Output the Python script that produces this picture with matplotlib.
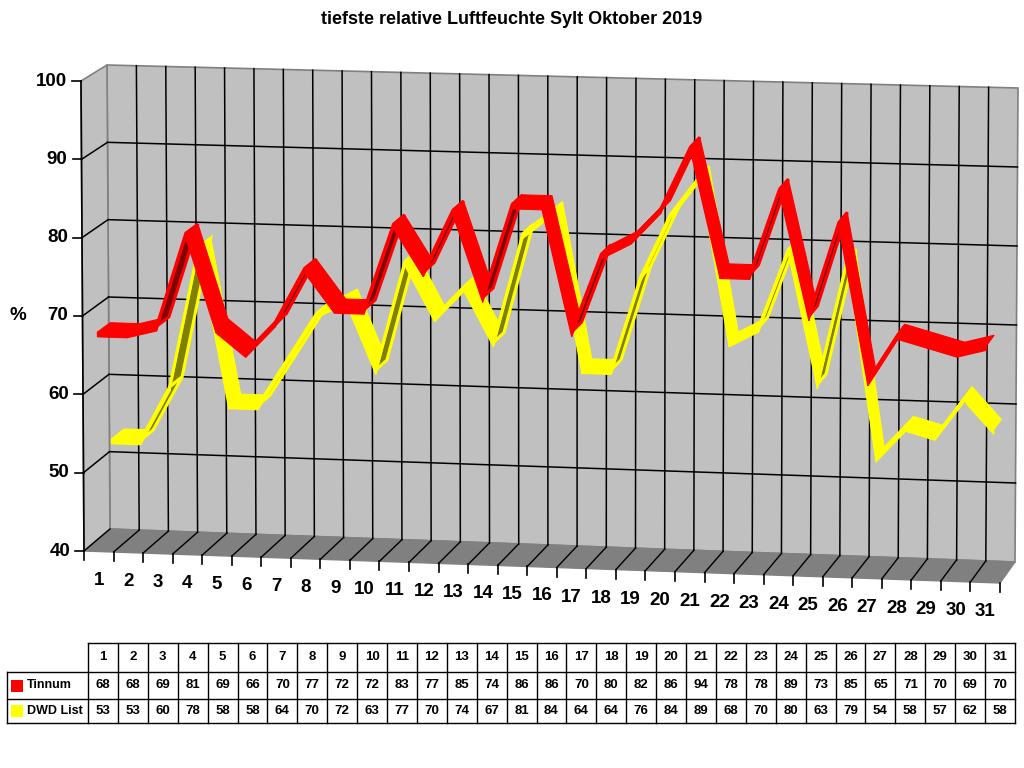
import matplotlib
matplotlib.use("Agg")
import matplotlib.pyplot as plt
from matplotlib.patches import Polygon
import numpy as np

# ---------------- data ----------------
days = list(range(1, 32))
tinnum = [68, 68, 69, 81, 69, 66, 70, 77, 72, 72, 83, 77, 85, 74, 86, 86,
          70, 80, 82, 86, 94, 78, 78, 89, 73, 85, 65, 71, 70, 69, 70]
dwd_list = [53, 53, 60, 78, 58, 58, 64, 70, 72, 63, 77, 70, 74, 67, 81, 84,
            64, 64, 76, 84, 89, 68, 70, 80, 63, 79, 54, 58, 57, 62, 58]
series_names = ["Tinnum", "DWD List"]
y_ticks = [40, 50, 60, 70, 80, 90, 100]
title = "tiefste relative Luftfeuchte Sylt Oktober 2019"
y_label = "%"

# ---------------- style ----------------
plt.rcParams['font.family'] = ['Liberation Sans', 'DejaVu Sans']
series_colors = ["#FF0000", "#FFFF00"]
series_dark = ["#800000", "#808000"]
series_depth = [(0.0, 0.49), (0.51, 1.0)]
RIBBON_H = 0.6           # vertical thickness of the ribbon, in value units
WALL = "#C0C0C0"
FLOOR = "#808080"
EDGE = "#808080"

W, H = 1024, 768
fig = plt.figure(figsize=(10.24, 7.68), dpi=100)
ax = fig.add_axes([0, 0, 1, 1])
ax.set_xlim(0, W)
ax.set_ylim(H, 0)
ax.axis('off')

# box corners in pixel space (front plane d=0, back plane d=1)
F00 = np.array([84.0, 551.0]); F10 = np.array([1000.0, 583.0])
F01 = np.array([81.0, 81.0]);  F11 = np.array([1003.0, 109.0])
B00 = np.array([110.0, 529.0]); B10 = np.array([1015.0, 562.0])
B01 = np.array([107.0, 65.0]);  B11 = np.array([1018.0, 88.0])
VMIN, VMAX = y_ticks[0], y_ticks[-1]
N = len(days)


def proj(x, v, d):
    u = x / N
    t = (v - VMIN) / (VMAX - VMIN)
    f = (1-u)*(1-t)*F00 + u*(1-t)*F10 + (1-u)*t*F01 + u*t*F11
    b = (1-u)*(1-t)*B00 + u*(1-t)*B10 + (1-u)*t*B01 + u*t*B11
    return (1-d)*f + d*b


def line(p, q, **kw):
    ax.plot([p[0], q[0]], [p[1], q[1]], **kw)


# walls
ax.add_patch(Polygon([proj(0, VMIN, 1), proj(N, VMIN, 1), proj(N, VMAX, 1), proj(0, VMAX, 1)],
                     closed=True, facecolor=WALL, edgecolor=EDGE, lw=1.2, zorder=1))
ax.add_patch(Polygon([proj(0, VMIN, 0), proj(0, VMIN, 1), proj(0, VMAX, 1), proj(0, VMAX, 0)],
                     closed=True, facecolor=WALL, edgecolor=EDGE, lw=1.2, zorder=1))
ax.add_patch(Polygon([proj(0, VMIN, 0), proj(N, VMIN, 0), proj(N, VMIN, 1), proj(0, VMIN, 1)],
                     closed=True, facecolor=FLOOR, edgecolor=FLOOR, lw=1, zorder=2))

# gridlines
for v in y_ticks[1:-1]:
    line(proj(0, v, 1), proj(N, v, 1), color='black', lw=1.1, zorder=2)
    line(proj(0, v, 0), proj(0, v, 1), color='black', lw=1.1, zorder=2)
for k in range(1, N):
    line(proj(k, VMIN, 1), proj(k, VMAX, 1), color='black', lw=1.1, zorder=2)
for k in range(0, N):
    line(proj(k, VMIN, 0), proj(k, VMIN, 1), color='black', lw=1.0, zorder=3)

# axis line and ticks
line(proj(0, VMIN, 0), proj(0, VMAX, 0), color='black', lw=1.2, zorder=3)
for v in y_ticks:
    p = proj(0, v, 0)
    line(p, p + np.array([-9, 0]), color='black', lw=1.2, zorder=3)
    ax.text(p[0] - 14, p[1], str(v), ha='right', va='center', fontsize=13.5,
            fontweight='bold', zorder=5)
for k in range(0, N + 1):
    p = proj(k, VMIN, 0)
    line(p, p + np.array([0, 9]), color='black', lw=1.2, zorder=3)
for i, dname in enumerate(days):
    p = proj(i + 0.5, VMIN, 0)
    ax.text(p[0], p[1] + 29, str(dname), ha='center', va='center', fontsize=13.5,
            fontweight='bold', zorder=5)

p70 = proj(0, 70, 0)
ax.text(18, p70[1], y_label, ha='center', va='center', fontsize=13.5, fontweight='bold')

# ribbons: back series first
all_series = [tinnum, dwd_list]
for s in [1, 0]:
    vals = all_series[s]
    d0, d1 = series_depth[s]
    col, dark = series_colors[s], series_dark[s]
    for i in range(N - 1):
        p1 = proj(i + 0.5, vals[i], d0)
        p2 = proj(i + 1.5, vals[i + 1], d0)
        q2 = proj(i + 1.5, vals[i + 1], d1)
        q1 = proj(i + 0.5, vals[i], d1)
        b1 = proj(i + 0.5, vals[i] - RIBBON_H, d0)
        b2 = proj(i + 1.5, vals[i + 1] - RIBBON_H, d0)
        dv = p2 - p1
        ev = q1 - p1
        cross = dv[0] * ev[1] - dv[1] * ev[0]
        if cross > 0:
            ax.add_patch(Polygon([p1, p2, q2, q1], closed=True, facecolor=dark,
                                 edgecolor=col, lw=2.2, joinstyle='miter', zorder=10))
        else:
            ax.add_patch(Polygon([p1, p2, q2, q1], closed=True, facecolor=col,
                                 edgecolor=col, lw=0.8, zorder=10))
        ax.add_patch(Polygon([p1, p2, b2, b1], closed=True, facecolor=col,
                             edgecolor=col, lw=0.8, zorder=10))

# title
ax.text(512, 20, title, ha='center', va='center', fontsize=13, fontweight='bold')

# data table
tx0, tx1 = 88.0, 1015.0
ty = [643.0, 672.0, 699.0, 723.0]
lx0 = 7.0
cw = (tx1 - tx0) / N
tk = dict(color='black', lw=1.0, zorder=5)
ax.plot([tx0, tx1], [ty[0], ty[0]], **tk)
ax.plot([lx0, tx1], [ty[1], ty[1]], **tk)
ax.plot([lx0, tx1], [ty[2], ty[2]], **tk)
ax.plot([lx0, tx1], [ty[3], ty[3]], **tk)
ax.plot([lx0, lx0], [ty[1], ty[3]], **tk)
for k in range(N + 1):
    x = tx0 + k * cw
    ax.plot([x, x], [ty[0], ty[3]], **tk)
for i in range(N):
    xc = tx0 + (i + 0.5) * cw
    ax.text(xc, (ty[0] + ty[1]) / 2, str(days[i]), ha='center', va='center',
            fontsize=9.5, fontweight='bold')
    for r in range(2):
        ax.text(xc, (ty[r + 1] + ty[r + 2]) / 2, str(all_series[r][i]), ha='center',
                va='center', fontsize=9.5, fontweight='bold')
for r in range(2):
    yc = (ty[r + 1] + ty[r + 2]) / 2
    ax.add_patch(plt.Rectangle((11, yc - 6), 12, 12, facecolor=series_colors[r],
                               edgecolor='none', zorder=6))
    ax.text(27, yc, series_names[r], ha='left', va='center', fontsize=9,
            fontweight='bold')

fig.savefig("out.png", dpi=100)
